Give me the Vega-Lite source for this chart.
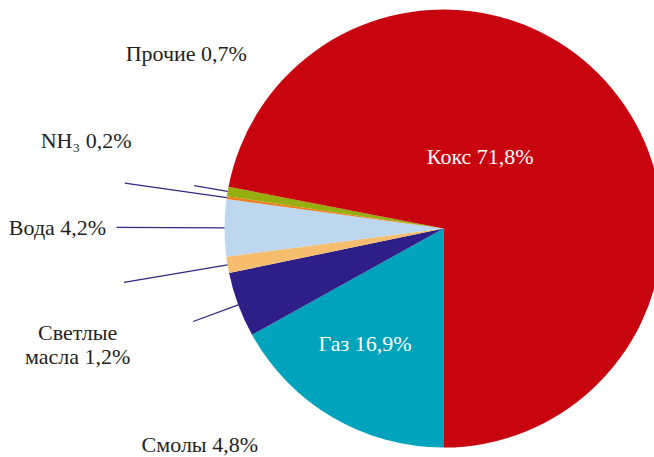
{
  "$schema": "https://vega.github.io/schema/vega-lite/v6.json",
  "width": 887,
  "height": 457,
  "autosize": {"type": "none"},
  "padding": {"left": 0, "top": 0, "right": -233, "bottom": 0},
  "background": "white",
  "config": {"view": {"stroke": null}},
  "data": {
    "values": [
      {"name": "Газ", "share": 16.9, "ord": 1, "label": "Газ 16,9%"},
      {"name": "Смолы", "share": 4.8, "ord": 2, "label": "Смолы 4,8%"},
      {"name": "Светлые масла", "share": 1.2, "ord": 3, "label": ["Светлые", "масла 1,2%"]},
      {"name": "Вода", "share": 4.2, "ord": 4, "label": "Вода 4,2%"},
      {"name": "NH3", "share": 0.2, "ord": 5, "label": "NH₃ 0,2%"},
      {"name": "Прочие", "share": 0.7, "ord": 6, "label": "Прочие 0,7%"},
      {"name": "Кокс", "share": 71.8, "ord": 7, "label": "Кокс 71,8%"}
    ]
  },
  "encoding": {
    "theta": {"field": "share", "type": "quantitative", "stack": true, "scale": {"range": [3.14159265, 9.42477796]}},
    "order": {"field": "ord", "type": "quantitative"}
  },
  "layer": [
    {
      "mark": {"type": "arc", "radius": 219},
      "encoding": {
        "color": {
          "field": "name", "type": "nominal", "legend": null,
          "scale": {
            "domain": ["Газ", "Смолы", "Светлые масла", "Вода", "NH3", "Прочие", "Кокс"],
            "range": ["#00A3BC", "#2E1E87", "#F6BD6E", "#BDD7EE", "#F07D1A", "#96AE0E", "#C8040F"]
          }
        }
      }
    },
    {
      "mark": {"type": "arc", "radius": 327, "radius2": 219, "padAngle": 3, "fill": null, "stroke": "#2E2A86", "strokeWidth": 1.3},
      "encoding": {"strokeOpacity": {"condition": {"test": "datum.name === 'Вода'", "value": 1}, "value": 0}}
    },
    {
      "mark": {"type": "arc", "radius": 322, "radius2": 219, "padAngle": 3, "fill": null, "stroke": "#2E2A86", "strokeWidth": 1.3},
      "encoding": {"strokeOpacity": {"condition": {"test": "datum.name === 'NH3'", "value": 1}, "value": 0}}
    },
    {
      "mark": {"type": "arc", "radius": 253, "radius2": 219, "padAngle": 3, "fill": null, "stroke": "#2E2A86", "strokeWidth": 1.3},
      "encoding": {"strokeOpacity": {"condition": {"test": "datum.name === 'Прочие'", "value": 1}, "value": 0}}
    },
    {
      "mark": {"type": "arc", "radius": 324, "radius2": 219, "padAngle": 3, "fill": null, "stroke": "#2E2A86", "strokeWidth": 1.3},
      "encoding": {"strokeOpacity": {"condition": {"test": "datum.name === 'Светлые масла'", "value": 1}, "value": 0}}
    },
    {
      "mark": {"type": "arc", "radius": 267, "radius2": 219, "padAngle": 3, "fill": null, "stroke": "#2E2A86", "strokeWidth": 1.3},
      "encoding": {"strokeOpacity": {"condition": {"test": "datum.name === 'Смолы'", "value": 1}, "value": 0}}
    },
    {
      "mark": {"type": "text", "radius": 135, "dx": -10, "dy": -1, "font": "Liberation Serif", "fontSize": 22, "fill": "white", "align": "center", "baseline": "middle"},
      "encoding": {"text": {"condition": {"test": "datum.name === 'Газ'", "field": "label"}, "value": ""}}
    },
    {
      "mark": {"type": "text", "radius": 80, "dx": -25, "dy": -21, "font": "Liberation Serif", "fontSize": 22, "fill": "white", "align": "center", "baseline": "middle"},
      "encoding": {"text": {"condition": {"test": "datum.name === 'Кокс'", "field": "label"}, "value": ""}}
    },
    {
      "mark": {"type": "text", "radius": 386, "dx": 0, "dy": 1, "font": "Liberation Serif", "fontSize": 22, "fill": "#231F20", "align": "center", "baseline": "middle"},
      "encoding": {"text": {"condition": {"test": "datum.name === 'Вода'", "field": "label"}, "value": ""}}
    },
    {
      "mark": {"type": "text", "radius": 362, "dx": 1, "dy": -36, "font": "Liberation Serif", "fontSize": 22, "fill": "#231F20", "align": "center", "baseline": "middle"},
      "encoding": {"text": {"condition": {"test": "datum.name === 'NH3'", "field": "label"}, "value": ""}}
    },
    {
      "mark": {"type": "text", "radius": 261, "dx": 0, "dy": -130, "font": "Liberation Serif", "fontSize": 22, "fill": "#231F20", "align": "center", "baseline": "middle"},
      "encoding": {"text": {"condition": {"test": "datum.name === 'Прочие'", "field": "label"}, "value": ""}}
    },
    {
      "mark": {"type": "text", "radius": 371, "dx": 0, "dy": 43, "font": "Liberation Serif", "fontSize": 22, "lineHeight": 24, "fill": "#231F20", "align": "center", "baseline": "middle"},
      "encoding": {"text": {"condition": {"test": "datum.name === 'Светлые масла'", "field": "label"}, "value": ""}}
    },
    {
      "mark": {"type": "text", "radius": 260, "dx": 0, "dy": 126, "font": "Liberation Serif", "fontSize": 22, "fill": "#231F20", "align": "center", "baseline": "middle"},
      "encoding": {"text": {"condition": {"test": "datum.name === 'Смолы'", "field": "label"}, "value": ""}}
    }
  ]
}
